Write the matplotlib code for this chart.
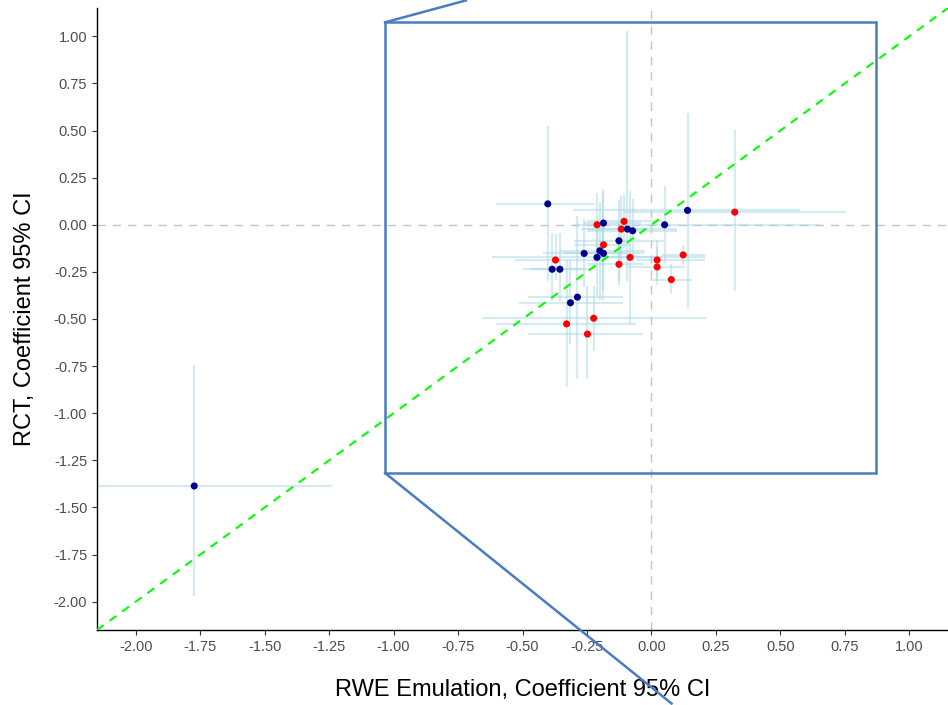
import matplotlib
matplotlib.use("Agg")
import matplotlib.pyplot as plt
from matplotlib.patches import Rectangle

plt.rcParams['font.family'] = ['Liberation Sans', 'DejaVu Sans']

# ---- data (RWE emulation x, RCT y, with 95% CI) ----
group = ['b', 'b', 'r', 'b', 'r', 'b', 'r', 'r', 'b', 'b',
         'b', 'r', 'b', 'b', 'b', 'b', 'r', 'r', 'r', 'r',
         'r', 'r', 'r', 'b', 'b', 'b', 'b', 'r', 'r', 'r', 'b']
rwe = [-0.402, 0.140, 0.323, 0.051, -0.211, -0.186, -0.106, -0.117, -0.093, -0.073,
       -0.126, -0.186, -0.200, -0.186, -0.261, -0.211, -0.083, -0.126, 0.022, 0.022,
       0.123, 0.077, -0.372, -0.385, -0.355, -0.287, -0.314, -0.224, -0.329, -0.248, -1.773]
rwe_lo = [-0.603, -0.305, -0.109, -0.130, -0.300, -0.260, -0.250, -0.272, -0.250, -0.250,
          -0.300, -0.300, -0.357, -0.340, -0.420, -0.620, -0.200, -0.246, -0.060, -0.090,
          0.040, -0.006, -0.530, -0.500, -0.470, -0.480, -0.512, -0.658, -0.603, -0.480, -2.307]
rwe_hi = [-0.223, 0.576, 0.755, 0.655, -0.100, -0.039, 0.040, -0.013, 0.100, 0.100,
          0.050, -0.080, -0.026, -0.030, -0.100, 0.207, 0.040, -0.026, 0.207, 0.130,
          0.207, 0.156, -0.207, -0.266, -0.240, -0.110, -0.110, 0.210, -0.061, -0.032, -1.239]
rct = [0.111, 0.076, 0.067, 0.000, 0.000, 0.009, 0.018, -0.023, -0.023, -0.032,
       -0.085, -0.106, -0.138, -0.152, -0.152, -0.173, -0.173, -0.210, -0.187, -0.224,
       -0.160, -0.291, -0.187, -0.236, -0.236, -0.384, -0.414, -0.496, -0.526, -0.580, -1.386]
rct_lo = [-0.300, -0.444, -0.353, -0.203, -0.168, -0.150, -0.123, -0.200, -0.300, -0.200,
          -0.300, -0.397, -0.400, -0.350, -0.330, -0.380, -0.524, -0.317, -0.300, -0.320,
          -0.214, -0.360, -0.291, -0.406, -0.406, -0.816, -0.631, -0.670, -0.863, -0.816, -1.967]
rct_hi = [0.524, 0.591, 0.503, 0.206, 0.168, 0.170, 0.159, 0.150, 1.030, 0.136,
          0.130, 0.189, 0.120, 0.050, 0.030, 0.030, 0.178, -0.103, -0.080, -0.120,
          -0.106, -0.210, -0.050, -0.044, -0.044, 0.044, -0.185, -0.326, -0.185, -0.326, -0.746]

colors = {'b': '#00008B', 'r': '#FF0000'}
ticks = [-2.00, -1.75, -1.50, -1.25, -1.00, -0.75, -0.50, -0.25, 0.00, 0.25, 0.50, 0.75, 1.00]
zoom_box = [-1.033, 0.870, -1.317, 1.074]  # xmin, xmax, ymin, ymax
connector_ends = [(-0.72, 1.19), (0.078, -2.54)]

W, H = 948, 705
fig = plt.figure(figsize=(W / 100, H / 100), dpi=100)
ax = fig.add_axes([97 / W, (H - 630) / H, (W - 97) / W, (630 - 8) / H])

ax.set_xlim(-2.15, 1.15)
ax.set_ylim(-2.15, 1.15)

# zero reference lines
ax.axhline(0, color='#c4c4c4', lw=1.0, linestyle=(0, (6, 5)), zorder=1)
ax.axvline(0, color='#c4c4c4', lw=1.0, linestyle=(0, (6, 5)), zorder=1)

# error bars
ax.hlines(rct, rwe_lo, rwe_hi, color='lightblue', alpha=0.5, lw=1.6, zorder=2)
ax.vlines(rwe, rct_lo, rct_hi, color='lightblue', alpha=0.5, lw=1.6, zorder=2)

# identity line
ax.axline((0, 0), slope=1, color='#00FF00', lw=1.5, linestyle=(0, (4, 3.5)), zorder=3)

# points
ax.scatter(rwe, rct, c=[colors[g] for g in group], s=26, zorder=4, linewidths=0)

# zoom box and connectors
x0, x1, y0, y1 = zoom_box
ax.add_patch(Rectangle((x0, y0), x1 - x0, y1 - y0, fill=False, ec='#4a7cc0', lw=1.8,
                       zorder=5, clip_on=False))
ax.plot([x0, connector_ends[0][0]], [y1, connector_ends[0][1]], color='#4a7cc0', lw=1.8,
        clip_on=False, zorder=5)
ax.plot([x0, connector_ends[1][0]], [y0, connector_ends[1][1]], color='#4a7cc0', lw=1.8,
        clip_on=False, zorder=5)

# axes style
ax.set_xticks(ticks)
ax.set_yticks(ticks)
ax.set_xticklabels([f'{t:.2f}' for t in ticks])
ax.set_yticklabels([f'{t:.2f}' for t in ticks])
ax.tick_params(axis='both', colors='#333333', labelcolor='#4d4d4d', labelsize=10.5,
               length=3.5, width=0.8)
for s in ['top', 'right']:
    ax.spines[s].set_visible(False)
for s in ['left', 'bottom']:
    ax.spines[s].set_color('black')
    ax.spines[s].set_linewidth(1.0)

ax.set_xlabel('RWE Emulation, Coefficient 95% CI', fontsize=17, labelpad=18)
ax.set_ylabel('RCT, Coefficient 95% CI', fontsize=17, labelpad=13)

fig.savefig('out.png', dpi=100)
